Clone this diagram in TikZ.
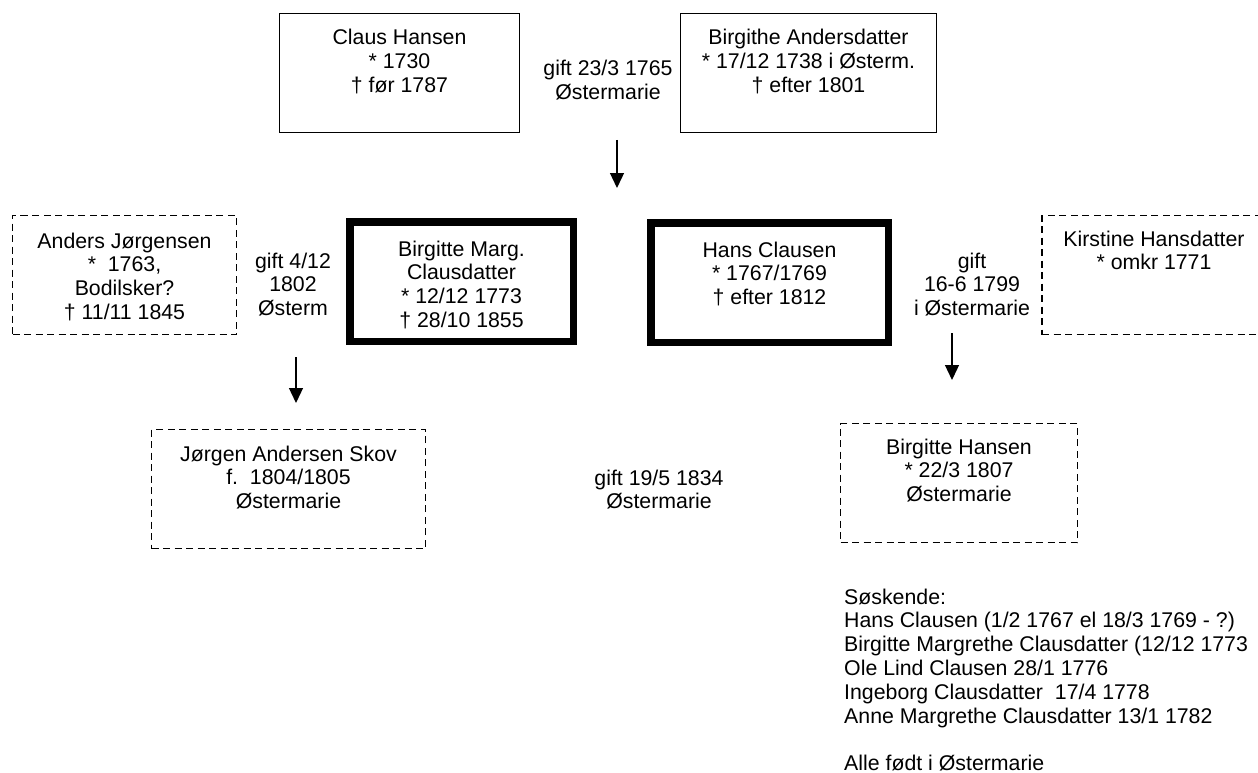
\documentclass[tikz,border=0pt]{standalone}
\usepackage{fontspec}
\setmainfont{Liberation Sans}
\usetikzlibrary{arrows.meta, positioning}

\begin{document}
\begin{tikzpicture}[x=1pt, y=-1pt,
  every node/.style={font=\fontsize{21.3}{23.8}\selectfont, inner sep=0pt},
  solidbox/.style={draw, line width=1.3pt},
  dashbox/.style={draw, line width=1.5pt, dash pattern=on 7pt off 4.5pt},
  thickbox/.style={draw, line width=7.5pt},
  ptext/.style={anchor=north, align=center},
  down/.style={line width=1.3pt, -{Triangle[length=15pt, width=14pt]}}]
\useasboundingbox (0,0) rectangle (1258,773);

\node[solidbox, minimum width=240pt, minimum height=119pt] (claus) at (399.5,73) {};
\node[ptext] (claustxt) at (399.5,29) {Claus Hansen\\* 1730\\† før 1787};
\node[solidbox, minimum width=256pt, minimum height=119pt] (birgithe) at (808.5,73) {};
\node[ptext] (birgithetxt) at (808.5,29) {Birgithe Andersdatter\\* 17/12 1738 i Østerm.\\† efter 1801};
\node[ptext] (gift1) at (608,60) {gift 23/3 1765\\Østermarie};

\node[dashbox, minimum width=224pt, minimum height=119pt] (anders) at (124.5,275) {};
\node[ptext] (anderstxt) at (124.5,232.5) {Anders Jørgensen\\*\ \ 1763,\\Bodilsker?\\† 11/11 1845};
\node[ptext] (gift2) at (293,252.5) {gift 4/12\\1802\\Østerm};
\node[thickbox, minimum width=223.5pt, minimum height=119.5pt] (birgittem) at (461.5,281.5) {};
\node[ptext] (birgittemtxt) at (461.5,240.5) {Birgitte Marg.\\Clausdatter\\* 12/12 1773\\† 28/10 1855};
\node[thickbox, minimum width=237.5pt, minimum height=119.5pt] (hans) at (769.5,282.5) {};
\node[ptext] (hanstxt) at (769.5,241.5) {Hans Clausen\\* 1767/1769\\† efter 1812};
\node[ptext] (gift3) at (972,252.5) {gift\\16-6 1799\\i Østermarie};
\node[dashbox, minimum width=240pt, minimum height=119pt] (kirstine) at (1162,275) {};
\node[ptext] (kirstinetxt) at (1154,230.5) {Kirstine Hansdatter\\* omkr 1771};

\node[dashbox, minimum width=274pt, minimum height=119pt] (jorgen) at (288.5,489) {};
\node[ptext] (jorgentxt) at (288.5,445.5) {Jørgen Andersen Skov\\f.\ \ 1804/1805\\Østermarie};
\node[ptext] (gift4) at (659,469.5) {gift 19/5 1834\\Østermarie};
\node[dashbox, minimum width=237pt, minimum height=119pt] (birgitteh) at (959,483) {};
\node[ptext] (birgittehtxt) at (959,438.5) {Birgitte Hansen\\* 22/3 1807\\Østermarie};

\node[anchor=north west, align=left] (siblings) at (844,588.5) {Søskende:\\Hans Clausen (1/2 1767 el 18/3 1769 - ?)\\Birgitte Margrethe Clausdatter (12/12 1773\\Ole Lind Clausen 28/1 1776\\Ingeborg Clausdatter\ \ 17/4 1778\\Anne Margrethe Clausdatter 13/1 1782\\~\\Alle født i Østermarie};

\coordinate (a1s) at (617,140);
\coordinate (a1e) at (617,188);
\coordinate (a2s) at (296,357);
\coordinate (a2e) at (296,403);
\coordinate (a3s) at (952,333);
\coordinate (a3e) at (952,380);
\draw[down] (a1s) -- (a1e);
\draw[down] (a2s) -- (a2e);
\draw[down] (a3s) -- (a3e);
\end{tikzpicture}
\end{document}
